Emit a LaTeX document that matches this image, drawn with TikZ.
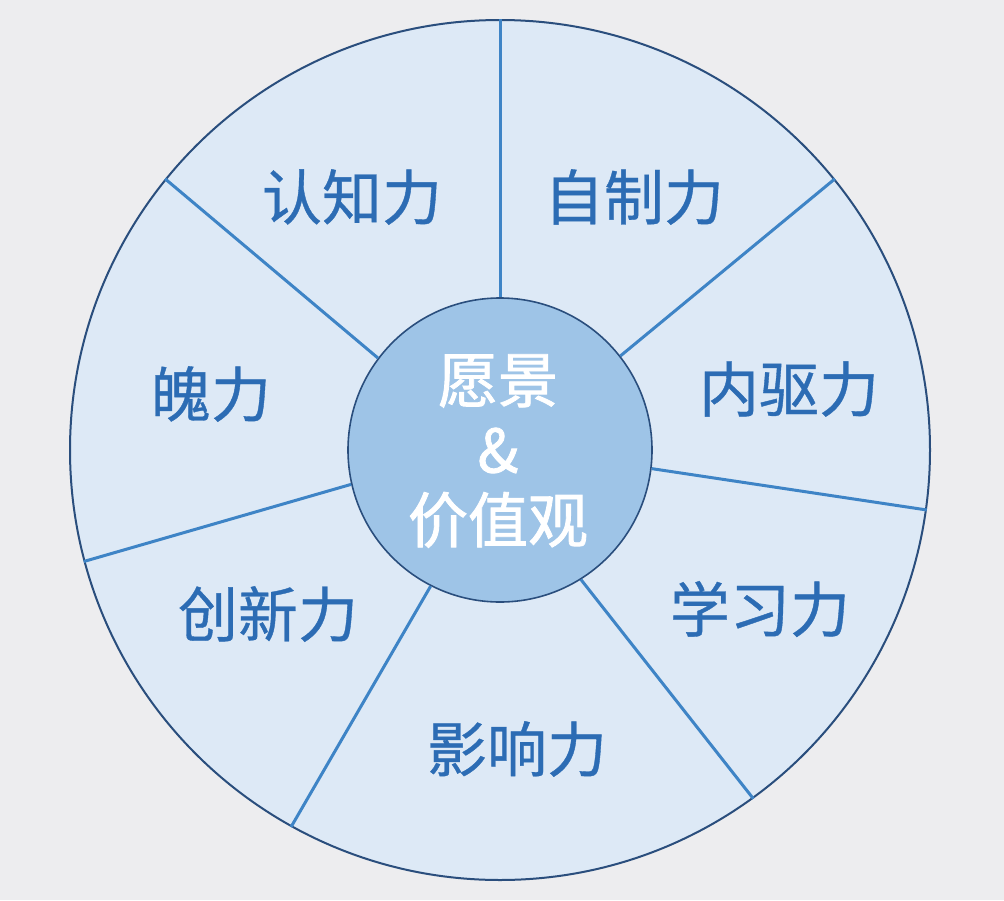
\documentclass[tikz,border=0pt]{standalone}
\usepackage{fontspec}
\usepackage{tikz}
\usetikzlibrary{positioning}
\newfontfamily\cjk{Noto Sans CJK SC}[FakeBold=0.6]
\newfontfamily\cjkhub{Noto Sans CJK SC}[FakeBold=1.4]
\definecolor{pagebg}{RGB}{237, 237, 239}
\definecolor{rimfill}{RGB}{221, 233, 246}
\definecolor{rimline}{RGB}{42, 78, 125}
\definecolor{hubfill}{RGB}{158, 196, 231}
\definecolor{spoke}{RGB}{62, 132, 198}
\definecolor{labelblue}{RGB}{44, 108, 180}

\begin{document}
\begin{tikzpicture}[x=1pt, y=-1pt,
    trait/.style={font=\cjk\fontsize{60}{70}\selectfont, text=labelblue, inner sep=0pt},
    spokeline/.style={draw=spoke, line width=3pt}]
                % Background
                \fill[pagebg] (0,0) rectangle (1004,900);
                \useasboundingbox (0,0) rectangle (1004,900);

                % Outer disk
                \node[circle, draw=rimline, fill=rimfill, line width=2pt, minimum size=860pt, inner sep=0pt] (rim) at (500,450) {};

                % Center disk
                \node[circle, draw=rimline, fill=hubfill, line width=1.6pt, minimum size=304pt, inner sep=0pt] (hub) at (500,450) {};
                \node[font=\cjkhub\fontsize{60}{70}\selectfont, text=white, align=center, inner sep=0pt] (core) at (498,451) {愿景\\\&\\价值观};

                % Spokes
                \draw[spokeline] (hub.90) -- (rim.90);
                \draw[spokeline] (hub.38) -- (rim.39);
                \draw[spokeline] (hub.-7) -- (rim.-8);
                \draw[spokeline] (hub.-58) -- (rim.-54);
                \draw[spokeline] (hub.-117) -- (rim.-119);
                \draw[spokeline] (hub.193) -- (rim.195);
                \draw[spokeline] (hub.143) -- (rim.141);

                % Labels
                \node[trait] (cognition) at (352,197) {认知力};
                \node[trait] (discipline) at (634,197) {自制力};
                \node[trait] (drive) at (789,389) {内驱力};
                \node[trait] (learning) at (760,609) {学习力};
                \node[trait] (influence) at (517,749) {影响力};
                \node[trait] (innovation) at (268,614) {创新力};
                \node[trait] (boldness) at (211,394) {魄力};
            \end{tikzpicture}
\end{document}
